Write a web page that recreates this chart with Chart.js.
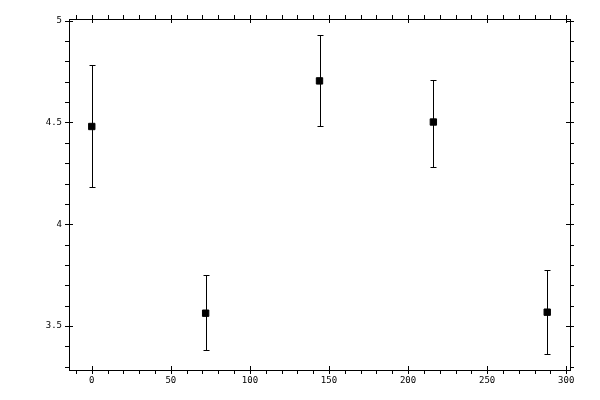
<!DOCTYPE html>
<html>
<head>
<meta charset="utf-8">
<script src="https://cdn.jsdelivr.net/npm/chart.js@4/dist/chart.umd.min.js"></script>
<style>
  html, body { margin: 0; padding: 0; background: #fff; }
  canvas { display: block; }
</style>
</head>
<body>
<canvas id="chart" width="600" height="400"></canvas>
<script>
// Series values
const xValues = [0, 72, 144, 216, 288];
const means = [4.48, 3.563, 4.704, 4.502, 3.568];
const errLow = [4.181, 3.38, 4.48, 4.283, 3.362];
const errHigh = [4.781, 3.75, 4.929, 4.71, 3.773];

// Axis ranges and tick steps
const xRange = [-14.4, 302.4];
const yRange = [3.284, 5.008];
const xMajor = 50, xMinor = 10;
const yMajor = 0.5, yMinor = 0.1;

const points = xValues.map((x, i) => ({ x: x, y: means[i], lo: errLow[i], hi: errHigh[i] }));

// Vertical error bars with small caps
const errorBars = {
    id: 'errorBars',
    beforeDatasetsDraw(chart) {
        const { ctx, scales: { x, y } } = chart;
        ctx.save();
        ctx.strokeStyle = '#000';
        ctx.lineWidth = 1;
        ctx.beginPath();
        points.forEach(p => {
            const px = Math.round(x.getPixelForValue(p.x)) + 0.5;
            const top = Math.round(y.getPixelForValue(p.hi)) + 0.5;
            const bot = Math.round(y.getPixelForValue(p.lo)) + 0.5;
            ctx.moveTo(px, top); ctx.lineTo(px, bot);
            ctx.moveTo(px - 3, top); ctx.lineTo(px + 3, top);
            ctx.moveTo(px - 3, bot); ctx.lineTo(px + 3, bot);
        });
        ctx.stroke();
        ctx.restore();
    }
};

// Major (crossing) and minor (outward) tick marks on all four sides
const frameTicks = {
    id: 'frameTicks',
    afterDraw(chart) {
        const { ctx, chartArea: a, scales: { x, y } } = chart;
        ctx.save();
        ctx.strokeStyle = '#000';
        ctx.lineWidth = 1;
        ctx.beginPath();
        const isMajor = (v, step) => Math.abs(v / step - Math.round(v / step)) < 1e-6;
        for (let v = Math.ceil(xRange[0] / xMinor) * xMinor; v <= xRange[1]; v += xMinor) {
            const px = Math.round(x.getPixelForValue(v)) + 0.5;
            const major = isMajor(v, xMajor);
            // bottom
            ctx.moveTo(px, a.bottom + 4);
            ctx.lineTo(px, major ? a.bottom - 4 : a.bottom);
            // top
            ctx.moveTo(px, a.top - 4);
            ctx.lineTo(px, major ? a.top + 4 : a.top);
        }
        for (let i = Math.ceil(yRange[0] / yMinor - 1e-6); i * yMinor <= yRange[1] + 1e-9; i++) {
            const v = i * yMinor;
            const py = Math.round(y.getPixelForValue(v)) + 0.5;
            const major = isMajor(v, yMajor);
            // left
            ctx.moveTo(a.left - 4, py);
            ctx.lineTo(major ? a.left + 4 : a.left, py);
            // right
            ctx.moveTo(a.right + 4, py);
            ctx.lineTo(major ? a.right - 4 : a.right, py);
        }
        ctx.stroke();
        ctx.restore();
    }
};

const tickFont = { family: 'DejaVu Sans Mono', size: 9 };
const plainNumber = v => String(+Number(v).toFixed(3));

new Chart(document.getElementById('chart').getContext('2d'), {
    type: 'scatter',
    data: {
        datasets: [{
            data: points,
            pointStyle: 'rect',
            pointRadius: 4.5,
            pointHoverRadius: 4.5,
            backgroundColor: '#000',
            borderColor: '#000',
            borderWidth: 1
        }]
    },
    options: {
        responsive: false,
        animation: false,
        devicePixelRatio: 1,
        layout: { padding: 0 },
        plugins: { legend: { display: false }, tooltip: { enabled: false } },
        scales: {
            x: {
                type: 'linear',
                position: 'bottom',
                min: xRange[0],
                max: xRange[1],
                grid: { display: false, drawTicks: false },
                border: { display: true, color: '#000', width: 1 },
                ticks: {
                    stepSize: xMajor,
                    includeBounds: false,
                    color: '#000',
                    font: tickFont,
                    padding: 5,
                    maxRotation: 0,
                    callback: plainNumber
                },
                afterFit: s => { s.height = 30; }
            },
            x2: {
                type: 'linear',
                position: 'top',
                min: xRange[0],
                max: xRange[1],
                grid: { display: false, drawTicks: false },
                border: { display: true, color: '#000', width: 1 },
                ticks: { display: false },
                afterFit: s => { s.height = 19; }
            },
            y: {
                type: 'linear',
                position: 'left',
                min: yRange[0],
                max: yRange[1],
                grid: { display: false, drawTicks: false },
                border: { display: true, color: '#000', width: 1 },
                ticks: {
                    stepSize: yMajor,
                    includeBounds: false,
                    color: '#000',
                    font: tickFont,
                    padding: 7,
                    callback: plainNumber
                },
                afterFit: s => { s.width = 69; }
            },
            y2: {
                type: 'linear',
                position: 'right',
                min: yRange[0],
                max: yRange[1],
                grid: { display: false, drawTicks: false },
                border: { display: true, color: '#000', width: 1 },
                ticks: { display: false },
                afterFit: s => { s.width = 30; }
            }
        }
    },
    plugins: [errorBars, frameTicks]
});
</script>
</body>
</html>
